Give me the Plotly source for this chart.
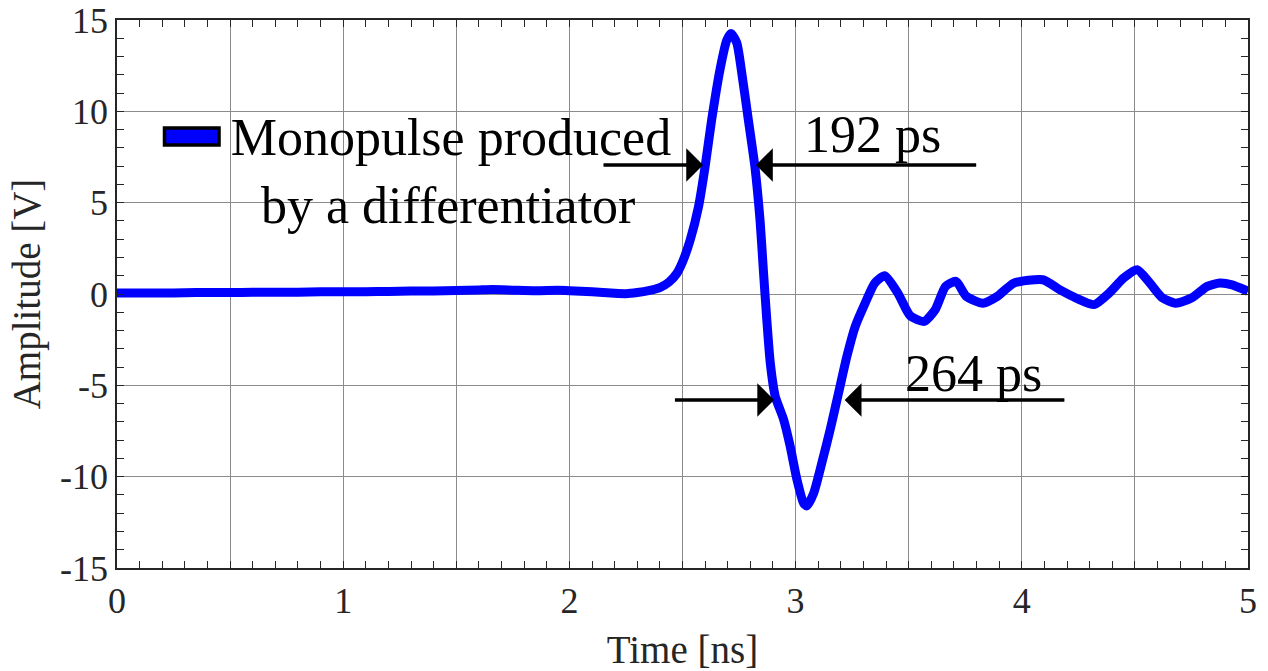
import plotly.graph_objects as go

# ---- data ----
time_ns = [0.00, 0.10, 0.20, 0.30, 0.40, 0.50, 0.60, 0.70, 0.80, 0.90,
           1.00, 1.10, 1.20, 1.30, 1.40, 1.50, 1.60, 1.66, 1.75, 1.85,
           1.95, 2.00, 2.10, 2.20, 2.25, 2.30, 2.35, 2.40, 2.44, 2.475,
           2.50, 2.534, 2.571, 2.60, 2.629, 2.666, 2.696, 2.715, 2.74, 2.762,
           2.791, 2.82, 2.843, 2.858, 2.872, 2.888, 2.91, 2.947, 2.976, 3.006,
           3.035, 3.05, 3.08, 3.116, 3.153, 3.19, 3.227, 3.264, 3.308, 3.35,
           3.394, 3.452, 3.507, 3.568, 3.617, 3.663, 3.709, 3.755, 3.828, 3.892,
           3.965, 4.093, 4.167, 4.24, 4.32, 4.386, 4.45, 4.51, 4.566, 4.62,
           4.68, 4.75, 4.82, 4.875, 4.93, 5.00]
amplitude_V = [0.05, 0.06, 0.05, 0.07, 0.08, 0.08, 0.09, 0.10, 0.10, 0.12,
               0.13, 0.13, 0.14, 0.16, 0.17, 0.19, 0.22, 0.24, 0.21, 0.18,
               0.20, 0.18, 0.12, 0.04, 0.02, 0.08, 0.18, 0.35, 0.65, 1.13,
               1.75, 2.96, 4.79, 6.98, 9.54, 12.3, 13.9, 14.26, 13.75, 12.1,
               9.54, 6.98, 4.0, 1.2, -1.3, -3.77, -5.6, -6.87, -8.34, -10.16,
               -11.44, -11.6, -10.9, -9.25, -7.42, -5.41, -3.4, -1.76, -0.48, 0.6,
               1.0, 0.05, -1.2, -1.5, -0.86, 0.42, 0.69, -0.13, -0.5, -0.13,
               0.6, 0.78, 0.24, -0.22, -0.58, 0.05, 0.87, 1.33, 0.6, -0.2,
               -0.5, -0.22, 0.42, 0.6, 0.5, 0.15]

x_tick_vals = [0, 0.5, 1, 1.5, 2, 2.5, 3, 3.5, 4, 4.5, 5]
x_tick_text = ["0", "", "1", "", "2", "", "3", "", "4", "", "5"]
y_tick_vals = [-15, -10, -5, 0, 5, 10, 15]
y_tick_text = ["-15", "-10", "-5", "0", "5", "10", "15"]

# pulse-width markers: (tail_x, head_x, y) for each arrow
width1_arrows = [(2.144, 2.591, 7.06), (3.805, 2.825, 7.06)]
width1_label = ("192 ps", 3.342, 8.73)
width2_arrows = [(2.46, 2.905, -5.8), (4.195, 3.217, -5.8)]
width2_label = ("264 ps", 3.785, -4.34)

legend_name = "Monopulse produced<br>\u00a0\u00a0\u200aby a differentiator"

FONT = "Liberation Serif"
AXC = "#262626"
GRID = "#8c8c8c"

fig = go.Figure()
fig.add_trace(go.Scatter(
    x=time_ns, y=amplitude_V, mode="lines",
    line=dict(color="#0000ff", width=9, shape="spline", smoothing=0.6),
    showlegend=False, hoverinfo="x+y"))
# legend entry (its key patch is drawn as a framed rectangle below)
fig.add_trace(go.Scatter(
    x=[None], y=[None], mode="lines",
    line=dict(color="rgba(0,0,255,0)", width=10),
    name=legend_name, showlegend=True))

annotations = []
for tx, hx, yy in width1_arrows + width2_arrows:
    annotations.append(dict(
        x=hx, y=yy, ax=tx, ay=yy, xref="x", yref="y", axref="x", ayref="y",
        text="", showarrow=True, arrowhead=1, arrowsize=1.6, arrowwidth=3.5,
        arrowcolor="black"))
for txt, tx, ty in [width1_label, width2_label]:
    annotations.append(dict(
        x=tx, y=ty, xref="x", yref="y", text=txt, showarrow=False,
        font=dict(family=FONT, size=52, color="black"),
        xanchor="center", yanchor="middle"))

fig.update_layout(
    width=1268, height=671,
    margin=dict(l=117, r=20, t=20, b=103, autoexpand=False),
    paper_bgcolor="white", plot_bgcolor="white",
    font=dict(family=FONT, color=AXC),
    annotations=annotations,
    shapes=[dict(type="rect", xref="paper", yref="paper",
                 x0=0.0420, x1=0.0902, y0=0.7719, y1=0.8029,
                 fillcolor="#0000ff", line=dict(color="black", width=3.5),
                 layer="above")],
    legend=dict(
        x=0.0386, y=0.8640, xanchor="left", yanchor="top",
        bgcolor="rgba(0,0,0,0)", borderwidth=0,
        font=dict(family=FONT, size=52, color="black"),
        itemwidth=60, valign="top"),
    xaxis=dict(
        range=[0, 5], tickvals=x_tick_vals, ticktext=x_tick_text,
        automargin=False,
        ticks="inside", ticklen=7, tickcolor=AXC, tickwidth=1.2,
        showline=True, linecolor=AXC, linewidth=1.5, mirror="ticks",
        showgrid=True, gridcolor=GRID, gridwidth=1, zeroline=False,
        tickfont=dict(family=FONT, size=36, color=AXC),
        minor=dict(dtick=0.1, ticks="inside", ticklen=7, tickcolor=AXC,
                   tickwidth=1.2, showgrid=False),
        title=dict(text="Time [ns]", font=dict(family=FONT, size=39, color=AXC),
                   standoff=16)),
    yaxis=dict(
        range=[-15, 15], tickvals=y_tick_vals, ticktext=y_tick_text,
        automargin=False,
        ticks="inside", ticklen=7, tickcolor=AXC, tickwidth=1.2,
        showline=True, linecolor=AXC, linewidth=1.5, mirror="ticks",
        showgrid=True, gridcolor=GRID, gridwidth=1, zeroline=False,
        tickfont=dict(family=FONT, size=36, color=AXC),
        minor=dict(dtick=1, ticks="inside", ticklen=7, tickcolor=AXC,
                   tickwidth=1.2, showgrid=False),
        title=dict(text="Amplitude [V]", font=dict(family=FONT, size=39, color=AXC),
                   standoff=7)),
)

fig.write_html("out.html")
